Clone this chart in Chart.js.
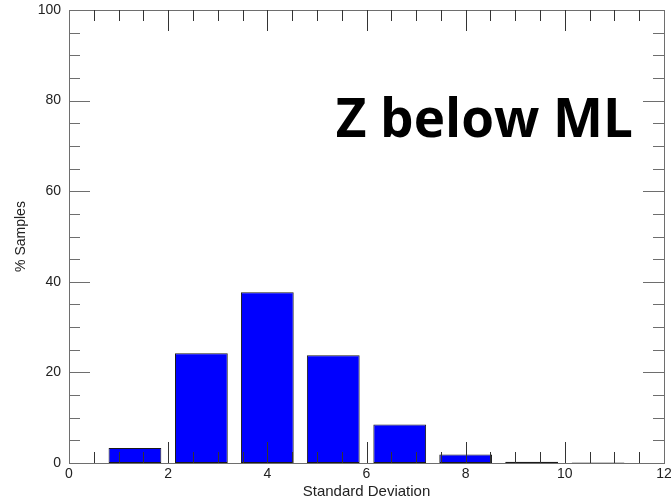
<!DOCTYPE html>
<html>
<head>
<meta charset="utf-8">
<script src="https://cdn.jsdelivr.net/npm/chart.js@4/dist/chart.umd.min.js"></script>
<style>
  html, body { margin: 0; padding: 0; background: #fff; }
  #wrap { width: 671px; height: 503px; position: relative; }
</style>
</head>
<body>
<div id="wrap"><canvas id="c" width="671" height="503"></canvas></div>
<script>
// Histogram bin centres (Standard Deviation)
const binCenters = [1.33, 2.67, 4.0, 5.33, 6.67, 8.0, 9.33, 10.67];
// % Samples in each bin
const percentSamples = [3.3, 24.2, 37.7, 23.8, 8.5, 1.9, 0.3, 0.1];
// Axis tick labels
const xTickValues = [0, 2, 4, 6, 8, 10, 12];
const yTickValues = [0, 20, 40, 60, 80, 100];
const xTitle = 'Standard Deviation';
const yTitle = '% Samples';
const annotationText = 'Z below ML';

const points = binCenters.map((x, i) => ({ x: x, y: percentSamples[i] }));

const AXIS_COLOR = '#6e6e6e';
const TICK_COLOR = '#333333';
const FONT = '"Liberation Sans", Arial, sans-serif';

const innerTicks = {
  id: 'innerTicks',
  afterDraw(chart) {
    const ctx = chart.ctx;
    const a = chart.chartArea;
    const xs = chart.scales.x, ys = chart.scales.y;
    ctx.save();
    ctx.lineWidth = 1;
    ctx.strokeStyle = AXIS_COLOR;
    ctx.strokeRect(Math.round(a.left) + 0.5, Math.round(a.top) + 0.5,
                   Math.round(a.right - a.left), Math.round(a.bottom - a.top));
    // x ticks (bottom and top), major every 2, minor every 0.5
    ctx.strokeStyle = TICK_COLOR;
    for (let v = 0.5; v < 12; v += 0.5) {
      const px = Math.round(xs.getPixelForValue(v)) + 0.5;
      const major = Math.abs(v / 2 - Math.round(v / 2)) < 1e-6;
      const l = major ? 21 : 11;
      ctx.beginPath();
      ctx.moveTo(px, a.bottom); ctx.lineTo(px, a.bottom - l);
      ctx.moveTo(px, a.top); ctx.lineTo(px, a.top + l);
      ctx.stroke();
    }
    // y ticks (left and right), major every 20, minor every 5
    ctx.strokeStyle = AXIS_COLOR;
    for (let v = 5; v < 100; v += 5) {
      const py = Math.round(ys.getPixelForValue(v)) + 0.5;
      const major = v % 20 === 0;
      const l = major ? 21 : 11;
      ctx.beginPath();
      ctx.moveTo(a.left, py); ctx.lineTo(a.left + l, py);
      ctx.moveTo(a.right, py); ctx.lineTo(a.right - l, py);
      ctx.stroke();
    }
    // annotation
    ctx.fillStyle = '#000';
    ctx.font = 'bold 53px "Open Sans"';
    ctx.textAlign = 'right';
    ctx.textBaseline = 'alphabetic';
    ctx.fillText(annotationText, a.right - 31, a.top + 127);
    ctx.restore();
  }
};

new Chart(document.getElementById('c'), {
  type: 'bar',
  data: {
    datasets: [{
      data: points,
      backgroundColor: '#0000ff',
      borderColor: '#1a1a1a',
      borderWidth: 1,
      borderSkipped: false,
      categoryPercentage: 1.0,
      barPercentage: 0.8
    }]
  },
  options: {
    responsive: false,
    animation: false,
    devicePixelRatio: 1,
    layout: { padding: { top: 10, right: 7, left: 0, bottom: 0 } },
    plugins: { legend: { display: false }, tooltip: { enabled: false } },
    scales: {
      x: {
        type: 'linear',
        min: 0, max: 12,
        offset: false,
        grid: { display: false, drawTicks: false },
        border: { display: false },
        afterBuildTicks(s) { s.ticks = xTickValues.map(v => ({ value: v })); },
        afterFit(s) { s.height = 40; s.paddingLeft = 0; s.paddingRight = 0; },
        ticks: {
          color: '#222', padding: 3, maxRotation: 0, autoSkip: false,
          font: { family: FONT, size: 14 }
        },
        title: {
          display: true, text: xTitle, color: '#222', padding: { top: 0, bottom: 2 },
          font: { family: FONT, size: 15 }
        }
      },
      y: {
        type: 'linear',
        min: 0, max: 100,
        grid: { display: false, drawTicks: false },
        border: { display: false },
        afterBuildTicks(s) { s.ticks = yTickValues.map(v => ({ value: v })); },
        afterFit(s) { s.width = 69; s.paddingTop = 0; s.paddingBottom = 0; },
        ticks: {
          color: '#222', padding: 8, autoSkip: false,
          font: { family: FONT, size: 14 }
        },
        title: {
          display: true, text: yTitle, color: '#222', padding: { top: 13, bottom: 0 },
          font: { family: FONT, size: 14 }
        }
      }
    }
  },
  plugins: [innerTicks]
});
</script>
</body>
</html>
